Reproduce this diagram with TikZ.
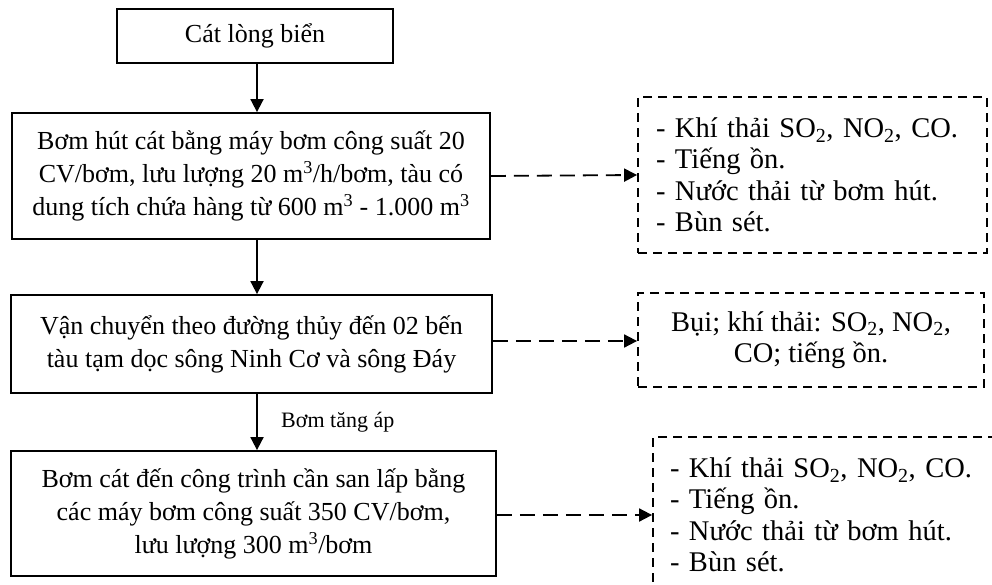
\documentclass[tikz,border=0pt]{standalone}
\usepackage{fontspec}
\setmainfont{Liberation Serif}
\usetikzlibrary{arrows.meta}
\begin{document}
\begin{tikzpicture}[x=1pt, y=-1pt, line width=1.8pt,
  buoc/.style={draw, align=center, inner sep=0pt, font=\fontsize{26}{33}\selectfont},
  tacdong/.style={draw, dash pattern=on 9pt off 6pt, inner ysep=0pt, font=\fontsize{28.5}{31.5}\selectfont},
  muiten/.style={-{Triangle[length=13pt, width=13pt]}},
  muitenrt/.style={-{Triangle[length=13pt, width=13pt]}, dash pattern=on 15pt off 8pt}]
  \useasboundingbox (0,0) rectangle (992,585);
  % cac buoc chinh
  \node[buoc, minimum width=276, minimum height=54] (cat) at (255,36) {Cát lòng biển};
  \node[buoc, minimum width=478, minimum height=126] (hut) at (251,176)
    {Bơm hút cát bằng máy bơm công suất 20\\CV/bơm, lưu lượng 20 m\textsuperscript{3}/h/bơm, tàu có\\dung tích chứa hàng từ 600 m\textsuperscript{3} - 1.000 m\textsuperscript{3}};
  \node[buoc, minimum width=481, minimum height=98] (vc) at (251.5,344)
    {Vận chuyển theo đường thủy đến 02 bến\\tàu tạm dọc sông Ninh Cơ và sông Đáy};
  \node[buoc, minimum width=485, minimum height=125] (bom) at (253.5,513.5)
    {Bơm cát đến công trình cần san lấp bằng\\các máy bơm công suất 350 CV/bơm,\\lưu lượng 300 m\textsuperscript{3}/bơm};
  % tac dong moi truong
  \node[tacdong, minimum width=349, minimum height=156, align=left, text width=313, inner xsep=18pt] (tdhut) at (812.5,175)
    {- Khí thải SO\textsubscript{2}, NO\textsubscript{2}, CO.\\- Tiếng ồn.\\- Nước thải từ bơm hút.\\- Bùn sét.};
  \node[tacdong, minimum width=346, minimum height=94, align=center, inner xsep=0pt] (tdvc) at (811,340)
    {Bụi; khí thải: SO\textsubscript{2}, NO\textsubscript{2},\\CO; tiếng ồn.};
  \node[tacdong, minimum width=349, minimum height=156, align=left, text width=315, inner xsep=17pt] (tdbom) at (827.5,515)
    {- Khí thải SO\textsubscript{2}, NO\textsubscript{2}, CO.\\- Tiếng ồn.\\- Nước thải từ bơm hút.\\- Bùn sét.};
  % mui ten
  \draw[muiten] (cat.south -| 257,0) -- (hut.north -| 257,0);
  \draw[muiten] (hut.south -| 257,0) -- (vc.north -| 257,0);
  \draw[muiten] (vc.south -| 257,0) -- node[right=20pt, font=\fontsize{22}{26}\selectfont] (tangap) {Bơm tăng áp} (bom.north -| 257,0);
  \draw[muitenrt] (hut.east) -- (tdhut.west);
  \draw[muitenrt] (vc.east |- 0,341) -- (tdvc.west |- 0,341);
  \draw[muitenrt] (bom.east |- 0,515) -- (tdbom.west);
\end{tikzpicture}
\end{document}
